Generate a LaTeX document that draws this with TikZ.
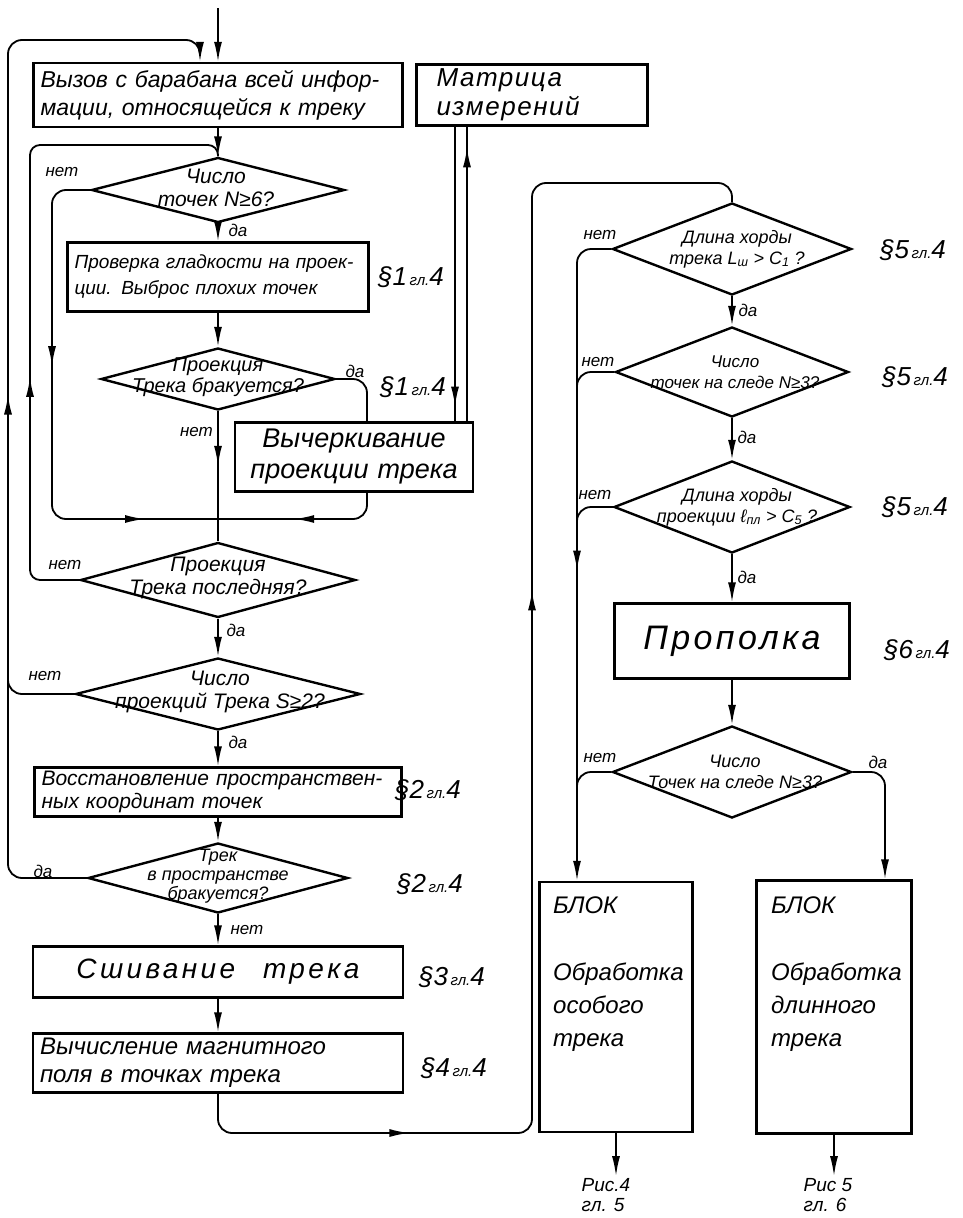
\documentclass[tikz,border=0pt]{standalone}
\usepackage{fontspec}
\setmainfont{Liberation Sans}
\usetikzlibrary{arrows.meta,positioning,calc,shapes.geometric,decorations.markings}
\newcommand{\glref}[1]{§#1{\fontsize{15}{15}\selectfont\,гл.}4}
\tikzset{
  flowbox/.style={
    draw,
    line width=2.4pt,
    inner xsep=7pt,
    inner ysep=3pt,
    align=left,
    font=\itshape\fontsize{22}{27}\selectfont
  },
  decision/.style={
    diamond,
    draw,
    line width=2.4pt,
    inner sep=0pt
  },
  dtext/.style={align=center, inner sep=0pt, font=\itshape\fontsize{21}{23}\selectfont},
  answer/.style={inner sep=1pt, font=\itshape\fontsize{17}{17}\selectfont},
  secnote/.style={inner sep=0pt, font=\itshape\fontsize{26}{26}\selectfont},
  blocktext/.style={inner sep=0pt, align=left, font=\itshape\fontsize{24}{33}\selectfont},
  fignote/.style={inner sep=2pt, align=left, font=\itshape\fontsize{19}{20}\selectfont},
  flowline/.style={line width=1.8pt, rounded corners=14pt},
  flowarrow/.style={flowline, -{Latex[length=20pt,width=8pt]}},
  tipat/.style={postaction={decorate, decoration={markings,
    mark=at position #1 with {\arrow{Latex[length=20pt,width=8pt]}}}}}
}

\begin{document}
\begin{tikzpicture}[x=1pt, y=-1pt]
\useasboundingbox (0,0) rectangle (962,1218);

% left column
\coordinate (in) at (218,8);
\node[flowbox, text width=355pt, minimum height=64pt, font=\itshape\fontsize{23}{28}\selectfont] (call) at (218,95) {Вызов с барабана всей инфор-\\мации, относящейся к треку};
\node[flowbox, inner xsep=20pt, text width=191pt, minimum height=61pt, font=\itshape\fontsize{26}{29}\selectfont\addfontfeatures{LetterSpace=6}] (matr) at (532,95) {Матрица\\измерений};
\node[decision, minimum width=253pt, minimum height=65pt] (d1) at (218,190) {};
\node[dtext] (d1t) at (216,188) {Число\\точек N≥6?};
\node[flowbox, text width=287pt, minimum height=69pt, font=\itshape\fontsize{19}{26}\selectfont] (check) at (218,277) {Проверка гладкости на проек-\\ции. Выброс плохих точек};
\node[decision, minimum width=234pt, minimum height=62pt] (d2) at (218,379) {};
\node[dtext, font=\itshape\fontsize{20}{21}\selectfont] (d2t) at (218,377) {Проекция\\Трека бракуется?};
\node[flowbox, text width=224pt, minimum height=69pt, align=center, font=\itshape\fontsize{27}{31}\selectfont] (strike) at (354,457) {Вычеркивание\\проекции трека};
\node[decision, minimum width=275pt, minimum height=75pt] (d3) at (218,580) {};
\node[dtext] (d3t) at (218,578) {Проекция\\Трека последняя?};
\node[decision, minimum width=285pt, minimum height=72pt] (d4) at (218,694) {};
\node[dtext] (d4t) at (220,692) {Число\\проекций Трека S≥2?};
\node[flowbox, text width=353pt, minimum height=49pt, font=\itshape\fontsize{21}{23}\selectfont] (restore) at (218,792) {Восстановление пространствен-\\ных координат точек};
\node[decision, minimum width=260pt, minimum height=70pt] (d5) at (218,878) {};
\node[dtext, font=\itshape\fontsize{18}{19}\selectfont] (d5t) at (218,876) {Трек\\в пространстве\\бракуется?};
\node[flowbox, text width=356pt, minimum height=51pt, align=center, font=\itshape\fontsize{28}{30}\selectfont\addfontfeatures{LetterSpace=12}] (sew) at (218,972) {Сшивание\quad трека};
\node[flowbox, text width=356pt, minimum height=59pt, font=\itshape\fontsize{24}{28}\selectfont] (field) at (218,1063) {Вычисление магнитного\\поля в точках трека};

% right column
\node[decision, minimum width=239pt, minimum height=92pt] (d6) at (732,249) {};
\node[dtext, font=\itshape\fontsize{18}{21}\selectfont] (d6t) at (737,249) {Длина хорды\\трека L\textsubscript{ш} > C\textsubscript{1} ?};
\node[decision, minimum width=233pt, minimum height=90pt] (d7) at (732,372) {};
\node[dtext, font=\itshape\fontsize{17}{21}\selectfont] (d7t) at (735,372) {Число\\точек на следе N≥3?};
\node[decision, minimum width=236pt, minimum height=92pt] (d8) at (732,507) {};
\node[dtext, font=\itshape\fontsize{18}{21}\selectfont] (d8t) at (737,507) {Длина хорды\\проекции ℓ\textsubscript{пл} > C\textsubscript{5} ?};
\node[flowbox, minimum width=235pt, minimum height=75pt, align=center, font=\itshape\fontsize{34}{34}\selectfont\addfontfeatures{LetterSpace=10}] (weed) at (732,641) {Прополка};
\node[decision, minimum width=239pt, minimum height=92pt] (d9) at (732,772) {};
\node[dtext, font=\itshape\fontsize{18}{21}\selectfont] (d9t) at (735,772) {Число\\Точек на следе N≥3?};
\node[flowbox, minimum width=153pt, minimum height=250pt] (blk1) at (616,1007) {};
\node[blocktext, anchor=north west] (blk1t) at (553,897) {БЛОК\\[34pt]Обработка\\особого\\трека};
\node[flowbox, minimum width=155pt, minimum height=253pt] (blk2) at (834,1007) {};
\node[blocktext, anchor=north west] (blk2t) at (771,897) {БЛОК\\[34pt]Обработка\\длинного\\трека};
\node[fignote] (fig4) at (606,1195) {Рис.4\\гл. 5};
\node[fignote] (fig5) at (828,1195) {Рис 5\\гл. 6};

% section notes
\node[secnote] (s1) at (411,277) {\glref{1}};
\node[secnote] (s2) at (413,387) {\glref{1}};
\node[secnote] (s3) at (428,790) {\glref{2}};
\node[secnote] (s4) at (430,884) {\glref{2}};
\node[secnote] (s5) at (452,977) {\glref{3}};
\node[secnote] (s6) at (454,1068) {\glref{4}};
\node[secnote] (s7) at (913,250) {\glref{5}};
\node[secnote] (s8) at (915,377) {\glref{5}};
\node[secnote] (s9) at (915,507) {\glref{5}};
\node[secnote] (s10) at (917,650) {\glref{6}};

% answers
\node[answer] (a1n) at (62,172) {нет};
\node[answer] (a1y) at (238,230) {да};
\node[answer] (a2y) at (355,371) {да};
\node[answer, anchor=east] (a2n) at (214,432) {нет};
\node[answer] (a3n) at (65,565) {нет};
\node[answer] (a3y) at (236,630) {да};
\node[answer] (a4n) at (45,676) {нет};
\node[answer] (a4y) at (238,742) {да};
\node[answer] (a5y) at (43,871) {да};
\node[answer] (a5n) at (247,930) {нет};
\node[answer] (a6n) at (600,235) {нет};
\node[answer] (a6y) at (748,310) {да};
\node[answer] (a7n) at (598,362) {нет};
\node[answer] (a7y) at (747,437) {да};
\node[answer] (a8n) at (595,495) {нет};
\node[answer] (a8y) at (747,577) {да};
\node[answer] (a9n) at (600,758) {нет};
\node[answer] (a9y) at (878,762) {да};

% main flow, left
\draw[flowarrow] (in) -- (call);
\draw[flowarrow] (call) -- (d1);
\draw[flowarrow] (d1) -- (check);
\draw[flowarrow] (check) -- (d2);
\draw[flowline, tipat=0.42] (d2.south) -- (d3.north);
\draw[flowarrow] (d3) -- (d4);
\draw[flowarrow] (d4) -- (restore);
\draw[flowarrow] (restore) -- (d5);
\draw[flowarrow] (d5) -- (sew);
\draw[flowarrow] (sew) -- (field);

% loops, left
\coordinate (join) at (218,519);
\draw[flowline, tipat=0.4, tipat=0.86] (d1.west) -| (52,519) -- (join);
\draw[flowline] (d2.east) -| ([xshift=13pt]strike.north);
\draw[flowline, tipat=0.55] ([xshift=13pt]strike.south) |- (join);
\draw[flowline, tipat=0.95] ([xshift=-77pt]matr.south) -- ([xshift=101pt]strike.north);
\draw[flowline, tipat=0.93] ([xshift=113pt]strike.north) -- ([xshift=-65pt]matr.south);
\draw[flowline, rounded corners=10pt, tipat=0.37] (d3.west) -| (30,145) -| (d1.north);
\draw[flowline] (d4.west) -| (8,640);
\draw[flowarrow, tipat=0.5] (d5.west) -| (8,40) -| ([xshift=-18pt]call.north);

% to the right column
\draw[flowline, tipat=0.15, tipat=0.59] (field.south) |- (532,1133) |- (732,183) -- (d6.north);
\draw[flowarrow] (d6) -- (d7);
\draw[flowarrow] (d7) -- (d8);
\draw[flowarrow] (d8) -- (weed);
\draw[flowarrow] (weed) -- (d9);
\draw[flowarrow, tipat=0.53] (d6.west) -| ([xshift=-39pt]blk1.north);
\draw[flowline] (d7.west) -| (577,430);
\draw[flowline] (d8.west) -| (577,560);
\draw[flowline] (d9.west) -| (577,820);
\draw[flowarrow] (d9.east) -| ([xshift=51pt]blk2.north);
\draw[flowarrow] (blk1.south) -- (blk1.south |- fig4.north);
\draw[flowarrow] (blk2.south) -- (blk2.south |- fig5.north);
\end{tikzpicture}
\end{document}
